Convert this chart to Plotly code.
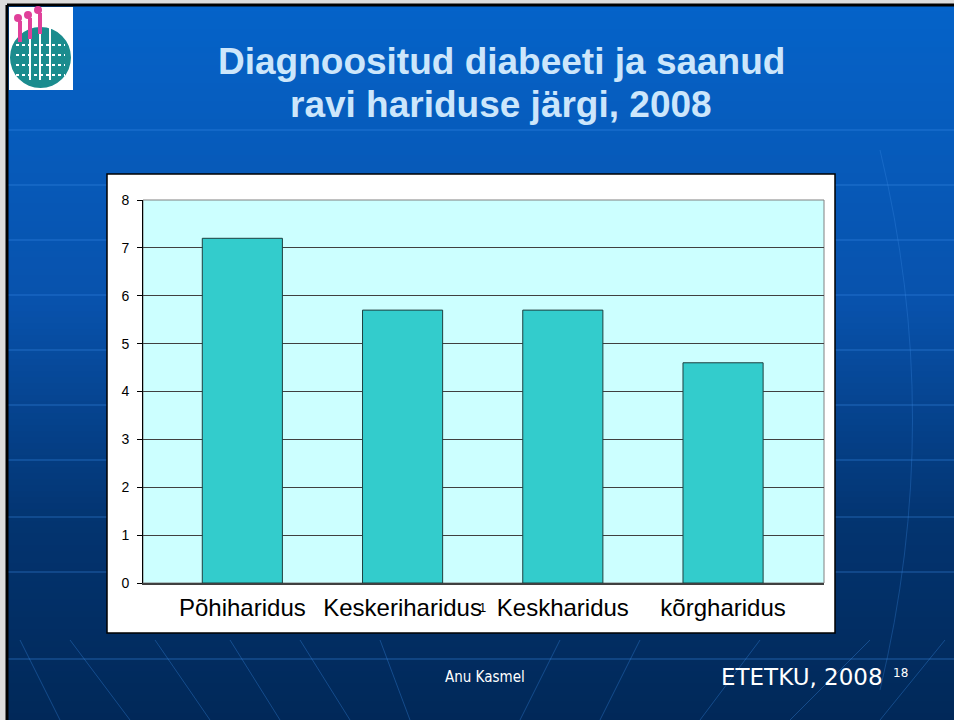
import plotly.graph_objects as go

# data
categories = ["Põhiharidus", "Keskeriharidus", "Keskharidus", "kõrgharidus"]
values = [7.2, 5.7, 5.7, 4.6]
y_ticks = [0, 1, 2, 3, 4, 5, 6, 7, 8]

TITLE_LINES = ["Diagnoositud diabeeti ja saanud", "ravi hariduse järgi, 2008"]

W, H = 954, 720
PL, PR, PT, PB = 143, 824, 200, 583  # plot area in pixels


def px(x):
    return (x - PL) / (PR - PL)


def py(y):
    return (PB - y) / (PB - PT)


def mix(c1, c2, t):
    return "rgb(%d,%d,%d)" % tuple(round(a + (b - a) * t) for a, b in zip(c1, c2))


shapes = []

# slide background: vertical gradient, drawn as thin bands
stops = [(0, (5, 99, 201)), (300, (8, 82, 172)), (520, (3, 52, 112)), (720, (1, 40, 88))]
for y in range(5, 720, 6):
    for (y0, c0), (y1, c1) in zip(stops, stops[1:]):
        if y0 <= y <= y1:
            col = mix(c0, c1, (y - y0) / (y1 - y0))
            break
    shapes.append(dict(type="rect", xref="paper", yref="paper", layer="below",
                       x0=px(7), x1=px(W), y0=py(y), y1=py(y + 7),
                       fillcolor=col, line_width=0))

# faint globe lines
for y in [130, 185, 240, 295, 350, 405, 460, 517, 572, 659]:
    shapes.append(dict(type="line", xref="paper", yref="paper", layer="below",
                       x0=px(7), x1=px(W), y0=py(y), y1=py(y),
                       line=dict(color="rgba(60,140,230,0.35)", width=1.5)))
for xa, xb in [(20, 60), (70, 130), (155, 210), (230, 280), (300, 350), (380, 410),
               (560, 520), (640, 600), (760, 700), (870, 790), (945, 880)]:
    shapes.append(dict(type="line", xref="paper", yref="paper", layer="below",
                       x0=px(xa), x1=px(xb), y0=py(640), y1=py(720),
                       line=dict(color="rgba(60,140,230,0.35)", width=1)))
shapes.append(dict(type="path", xref="paper", yref="paper", layer="below",
                   path="M %f %f Q %f %f %f %f" % (px(880), py(150), px(945), py(420), px(880), py(690)),
                   line=dict(color="rgba(60,140,230,0.3)", width=1)))

# slide border
shapes.append(dict(type="line", xref="paper", yref="paper", layer="below",
                   x0=px(7), x1=px(7), y0=py(5), y1=py(720), line=dict(color="black", width=3)))
shapes.append(dict(type="line", xref="paper", yref="paper", layer="below",
                   x0=px(7), x1=px(W), y0=py(5), y1=py(5), line=dict(color="black", width=3)))

# logo
shapes.append(dict(type="rect", xref="paper", yref="paper", layer="below",
                   x0=px(9), x1=px(73), y0=py(7), y1=py(90), fillcolor="white", line_width=0))
shapes.append(dict(type="circle", xref="paper", yref="paper", layer="below",
                   x0=px(10), x1=px(71), y0=py(27), y1=py(88), fillcolor="#1b8c8e", line_width=0))
for y in [45, 55, 65, 75]:
    shapes.append(dict(type="line", xref="paper", yref="paper", layer="below",
                       x0=px(16), x1=px(65), y0=py(y), y1=py(y),
                       line=dict(color="white", width=2, dash="dot")))
for x in [30, 40, 50]:
    shapes.append(dict(type="line", xref="paper", yref="paper", layer="below",
                       x0=px(x), x1=px(x), y0=py(28), y1=py(80),
                       line=dict(color="white", width=2)))
for cx, cy in [(18, 18), (28, 15), (38, 10)]:
    shapes.append(dict(type="circle", xref="paper", yref="paper", layer="below",
                       x0=px(cx - 4), x1=px(cx + 4), y0=py(cy - 4), y1=py(cy + 4),
                       fillcolor="#e0409a", line_width=0))
    shapes.append(dict(type="line", xref="paper", yref="paper", layer="below",
                       x0=px(cx + 2), x1=px(cx + 2), y0=py(cy + 3), y1=py(cy + 24),
                       line=dict(color="#e0409a", width=4)))

# white chart box and cyan plot area
shapes.append(dict(type="rect", xref="paper", yref="paper", layer="below",
                   x0=px(107), x1=px(835), y0=py(174), y1=py(633),
                   fillcolor="white", line=dict(color="black", width=1.5)))
shapes.append(dict(type="rect", xref="paper", yref="paper", layer="below",
                   x0=0, x1=1, y0=0, y1=1, fillcolor="#ccffff",
                   line=dict(color="#808080", width=1)))

fig = go.Figure(go.Bar(
    x=categories, y=values,
    marker=dict(color="#33cccc", line=dict(color="#1f3f3f", width=1)),
    width=0.5,
))

annotations = [
    dict(text="<b>%s</b>" % TITLE_LINES[0], x=px(501), y=py(61),
         xref="paper", yref="paper", showarrow=False,
         font=dict(family="Liberation Sans, Arial", size=37, color="#cce6fb"),
         xanchor="center", yanchor="middle"),
    dict(text="<b>%s</b>" % TITLE_LINES[1], x=px(501), y=py(104),
         xref="paper", yref="paper", showarrow=False,
         font=dict(family="Liberation Sans, Arial", size=37, color="#cce6fb"),
         xanchor="center", yanchor="middle"),
    dict(text="Anu Kasmel", x=px(485), y=py(677), xref="paper", yref="paper", showarrow=False,
         font=dict(family="DejaVu Sans Condensed, DejaVu Sans", size=15, color="white"),
         xanchor="center", yanchor="middle"),
    dict(text="ETETKU, 2008", x=px(802), y=py(677), xref="paper", yref="paper", showarrow=False,
         font=dict(family="DejaVu Sans", size=23, color="white"), xanchor="center", yanchor="middle"),
    dict(text="18", x=px(900), y=py(673), xref="paper", yref="paper", showarrow=False,
         font=dict(family="DejaVu Sans", size=12, color="white"), xanchor="center", yanchor="middle"),
    dict(text="1", x=px(482), y=py(607), xref="paper", yref="paper", showarrow=False,
         font=dict(family="Liberation Sans, Arial", size=13, color="black"), xanchor="center", yanchor="middle"),
]

fig.update_layout(
    width=W, height=H,
    margin=dict(l=PL, r=W - PR, t=PT, b=H - PB),
    paper_bgcolor="#dcdcdc",
    plot_bgcolor="rgba(0,0,0,0)",
    showlegend=False,
    shapes=shapes,
    annotations=annotations,
    xaxis=dict(
        range=[-0.62, 3.63],
        showgrid=False, showline=True, linecolor="#404040", linewidth=1.5,
        tickfont=dict(family="Liberation Sans, Arial", size=24, color="black"),
        ticks="", ticklabelstandoff=2,
    ),
    yaxis=dict(
        range=[0, 8], tickvals=y_ticks, showgrid=True, gridcolor="#404040", gridwidth=1,
        showline=True, linecolor="black", linewidth=1, zeroline=False,
        ticks="outside", ticklen=5, tickcolor="black", ticklabelstandoff=5,
        tickfont=dict(family="Liberation Sans, Arial", size=14, color="black"),
    ),
)

# drop the browser's default body margin so the figure sits at the page corner
fig.write_html("out.html", config={"displayModeBar": False},
               post_script="document.body.style.margin='0';")
